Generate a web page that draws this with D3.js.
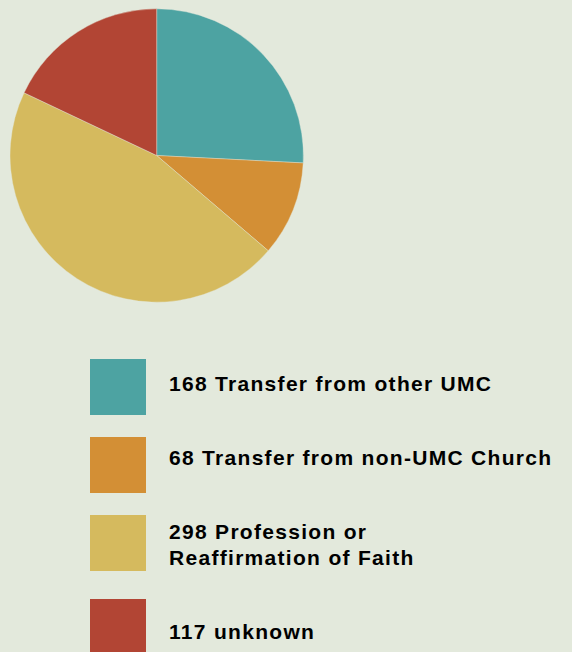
<!DOCTYPE html>
<html>

<head>
  <meta charset="utf-8">
  <title>New Members</title>
  <style>
    body { margin: 0; background: #e3e9dc; }
  </style>
</head>

<body>
  <svg width="572" height="652"></svg>
  <script src="https://d3js.org/d3.v7.min.js"></script>
  <script>
    // data
    var counts = [168, 68, 298, 117];
    var labels = [
      ["Transfer from other UMC"],
      ["Transfer from non-UMC Church"],
      ["Profession or", "Reaffirmation of Faith"],
      ["unknown"]
    ];
    var colors = ["#4da3a2", "#d38f35", "#d5ba5e", "#b24534"];

    var svg = d3.select("svg");

    var pie = d3.pie().sort(null).value(d => d);
    var arc = d3.arc().innerRadius(0).outerRadius(146.7);

    svg.append("g")
      .attr("transform", "translate(156.7,155.5)")
      .selectAll("path")
      .data(pie(counts))
      .enter()
      .append("path")
      .attr("d", arc)
      .attr("fill", (d, i) => colors[i])
      .attr("stroke", "#e3e9dc")
      .attr("stroke-width", 0.4);

    // legend
    var legend = svg.append("g");
    var extra = 0;
    counts.forEach((c, i) => {
      var boxY = 359 + 78 * i + 6 * extra;
      var textY = 391 + 74 * i + 26 * extra;
      legend.append("rect")
        .attr("x", 90)
        .attr("y", boxY)
        .attr("width", 56)
        .attr("height", 56)
        .attr("fill", colors[i]);
      var t = legend.append("text")
        .attr("x", 169)
        .attr("y", textY)
        .attr("fill", "#000")
        .style("font-family", "'Liberation Sans', Arial, sans-serif")
        .style("font-weight", "bold")
        .style("font-size", "21px")
        .style("letter-spacing", "1.3px");
      labels[i].forEach((line, j) => {
        t.append("tspan")
          .attr("x", 169)
          .attr("dy", j == 0 ? 0 : 26)
          .text(j == 0 ? c + " " + line : line);
      });
      extra += labels[i].length - 1;
    });
  </script>

</body>

</html>
